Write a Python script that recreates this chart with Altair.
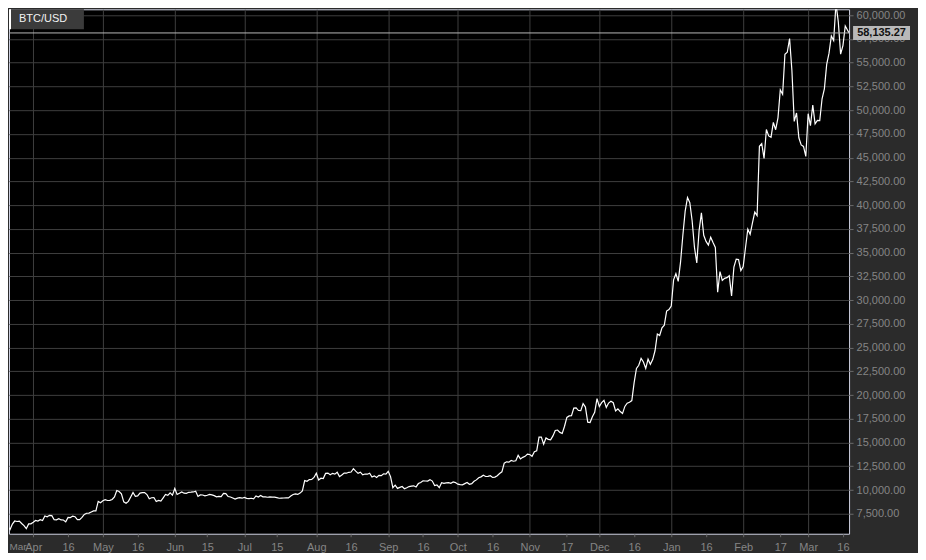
import altair as alt
import pandas as pd

# Daily closes, BTC/USD
mar20 = [5415, 6206, 6198, 6185, 5831, 6417, 6734, 6682, 6716, 6469, 6243, 5922, 6429, 6438]
apr20 = [6606, 6793, 6733, 6868, 6791, 7271, 7176, 7335, 7302, 6865,
         6859, 6971, 6845, 6842, 6642, 7116, 7096, 7257, 7189, 6881,
         6880, 7117, 7429, 7550, 7569, 7679, 7795, 7807, 8801, 8658]
may20 = [8864, 8989, 8897, 8912, 9003, 9268, 9951, 9842, 9593, 8756,
         8601, 8804, 9269, 9733, 9328, 9377, 9670, 9727, 9729, 9522,
         9081, 9182, 9209, 8790, 8906, 8835, 9181, 9525, 9439, 9700, 9461]
jun20 = [10167, 9529, 9656, 9800, 9665, 9653, 9758, 9771, 9795, 9870,
         9321, 9480, 9475, 9386, 9450, 9538, 9480, 9411, 9288, 9332,
         9304, 9648, 9629, 9313, 9264, 9162, 9045, 9143, 9190, 9137]
jul20 = [9228, 9123, 9087, 9132, 9073, 9375, 9252, 9428, 9277, 9278,
         9240, 9276, 9243, 9243, 9192, 9132, 9151, 9159, 9185, 9164,
         9374, 9525, 9581, 9536, 9677, 9905, 10990, 10912, 11100, 11111, 11323]
aug20 = [11759, 11053, 11246, 11205, 11747, 11779, 11601, 11754, 11675, 11878,
         11410, 11584, 11784, 11768, 11865, 11892, 12254, 11991, 11758, 11878,
         11592, 11681, 11664, 11774, 11366, 11488, 11323, 11542, 11506, 11711, 11680]
sep20 = [11970, 11414, 10245, 10511, 10169, 10280, 10369, 10131, 10242, 10363,
         10400, 10442, 10323, 10680, 10796, 10974, 10948, 10944, 11094, 10938,
         10462, 10538, 10246, 10760, 10692, 10750, 10775, 10709, 10844, 10784]
oct20 = [10619, 10575, 10549, 10669, 10793, 10604, 10668, 10915, 11065, 11296,
         11384, 11555, 11425, 11430, 11503, 11319, 11360, 11503, 11742, 11916,
         12823, 12965, 12931, 13108, 13031, 13075, 13654, 13271, 13437, 13546, 13781]
nov20 = [13737, 13550, 14023, 14133, 15579, 15565, 14833, 15479, 15332, 15290,
         15701, 16276, 16317, 16069, 15955, 16716, 17645, 17804, 17817, 18621,
         18642, 18370, 18364, 19107, 18732, 17150, 17109, 17717, 18177, 19625]
dec20 = [18802, 19201, 19445, 18699, 19154, 19345, 19191, 18321, 18553, 18264,
         18058, 18803, 19142, 19246, 19417, 21310, 22805, 23137, 23869, 23477,
         22803, 23783, 23241, 23735, 24664, 26437, 26272, 27084, 27362, 28841, 29002]
jan21 = [29374, 32127, 32782, 31971, 33992, 36824, 39371, 40797, 40254, 38356,
         35566, 33922, 37316, 39187, 36825, 36178, 35792, 36630, 36069, 35547,
         30825, 33005, 32067, 32289, 32366, 32569, 30432, 33466, 34316, 34269, 33114]
feb21 = [33538, 35510, 37472, 36926, 38144, 39266, 38903, 46196, 46481, 44919,
         47969, 47288, 47156, 48717, 47945, 49199, 52149, 51679, 55888, 56099,
         57539, 54208, 48825, 49705, 47093, 46339, 46188, 45137]
mar21 = [49631, 48378, 50538, 48561, 48927, 48912, 51206, 52246, 54824, 56008,
         57805, 57332, 61243, 59302, 55907, 56804, 58870]

last_price = 58135.27
last_time = "2021-03-18T15:00:00Z"
symbol = "BTC/USD"

x_start = "2020-03-21T13:00:00Z"
x_end = "2021-03-18T15:30:00Z"
y_min, y_max = 5396, 60626

tick_dates = ["2020-04-01", "2020-04-16", "2020-05-01", "2020-05-16", "2020-06-01",
              "2020-06-15", "2020-07-01", "2020-07-15", "2020-08-01", "2020-08-16",
              "2020-09-01", "2020-09-16", "2020-10-01", "2020-10-16", "2020-11-01",
              "2020-11-17", "2020-12-01", "2020-12-16", "2021-01-01", "2021-01-16",
              "2021-02-01", "2021-02-17", "2021-03-01", "2021-03-16"]
y_ticks = list(range(7500, 60001, 2500))


def ms(s):
    ts = pd.Timestamp(s)
    if ts.tzinfo is None:
        ts = ts.tz_localize("UTC")
    return int(ts.timestamp() * 1000)


prices = mar20 + apr20 + may20 + jun20 + jul20 + aug20 + sep20 + oct20 + nov20 + dec20 + jan21 + feb21 + mar21
dates = pd.date_range("2020-03-18", periods=len(prices), freq="D", tz="UTC")
t_vals = [int(d.timestamp() * 1000) for d in dates] + [ms(last_time)]
p_vals = prices + [last_price]
df = pd.DataFrame({"t": t_vals, "price": p_vals})

start_ms, end_ms = ms(x_start), ms(x_end)
apr_ms = ms(tick_dates[0])
tick_ms = [start_ms] + [ms(d) for d in tick_dates]

price_df = pd.DataFrame({"price": [last_price],
                         "lo": [last_price - 7 * (y_max - y_min) / 525],
                         "hi": [last_price + 7 * (y_max - y_min) / 525]})
legend_df = pd.DataFrame({"name": [symbol]})

FONT = "Liberation Sans"
LABEL = "#858585"
GRID = "#3e3e3e"

x_scale = alt.Scale(type="utc", domain=[start_ms, end_ms], nice=False)
y_scale = alt.Scale(domain=[y_min, y_max], nice=False, zero=False)

is_start = f"datum.value < {start_ms + 1000}"
x_axis = alt.Axis(
    values=tick_ms,
    labelExpr=(f"{is_start} ? 'Mar' : "
               "(utcdate(datum.value) == 1 ? utcFormat(datum.value, '%b') : '' + utcdate(datum.value))"),
    title=None, domain=False, tickSize=3, tickColor="#6a6a6a",
    tickOpacity={"condition": {"test": is_start, "value": 0}, "value": 1},
    labelPadding=5, labelFlush=3, labelOverlap=False,
    labelColor=LABEL, labelFont=FONT,
    labelFontSize={"condition": {"test": is_start, "value": 10}, "value": 11},
    labelOffset={"condition": {"test": f"datum.value == {apr_ms}", "value": 4}, "value": 0},
    grid=True, gridColor=GRID, gridWidth=1,
    gridOpacity={"condition": {"test": "utcdate(datum.value) == 1", "value": 1}, "value": 0},
)
y_axis = alt.Axis(
    orient="right", values=y_ticks, format=",.2f", title=None, domain=False,
    tickSize=4, tickColor="#6a6a6a", labelPadding=3,
    labelColor=LABEL, labelFont=FONT, labelFontSize=11,
    grid=True, gridColor=GRID, gridWidth=1,
)

line = alt.Chart(df).mark_line(color="#ffffff", strokeWidth=1.2, clip=True).encode(
    x=alt.X("t:T", scale=x_scale, axis=x_axis),
    y=alt.Y("price:Q", scale=y_scale, axis=y_axis),
)
price_rule = alt.Chart(price_df).mark_rule(color="#b8b8b8", strokeWidth=1).encode(
    y=alt.Y("price:Q", scale=y_scale, axis=y_axis)
)
price_box = alt.Chart(price_df).mark_rect(color="#b9b9b9").encode(
    x=alt.value(845), x2=alt.value(902),
    y=alt.Y("lo:Q", scale=y_scale, axis=y_axis), y2="hi:Q",
)
price_text = alt.Chart(price_df).mark_text(
    font=FONT, fontSize=11, fontWeight="bold", color="#111111", align="center", baseline="middle"
).encode(
    x=alt.value(873.5),
    y=alt.Y("price:Q", scale=y_scale, axis=y_axis),
    text=alt.Text("price:Q", format=",.2f"),
)
legend_box = alt.Chart(legend_df).mark_rect(color="#3b3b3b").encode(
    x=alt.value(2), x2=alt.value(75), y=alt.value(0), y2=alt.value(20)
)
legend_bar = alt.Chart(legend_df).mark_rect(color="#ffffff").encode(
    x=alt.value(0), x2=alt.value(2), y=alt.value(0), y2=alt.value(20)
)
legend_text = alt.Chart(legend_df).mark_text(
    font=FONT, fontSize=11, color="#f2f2f2", align="left", baseline="middle"
).encode(x=alt.value(10), y=alt.value(10), text="name:N")

chart = alt.layer(
    line, price_rule, price_box, price_text, legend_box, legend_bar, legend_text
).properties(
    width=841, height=525,
    padding={"left": 0, "top": 0, "right": 8, "bottom": 0},
    background="#2b2b2b",
).configure_view(
    fill="#000000", stroke="#d0d3e3", strokeWidth=1
)

chart.save("out.html", embed_options={"renderer": "svg", "actions": False})
